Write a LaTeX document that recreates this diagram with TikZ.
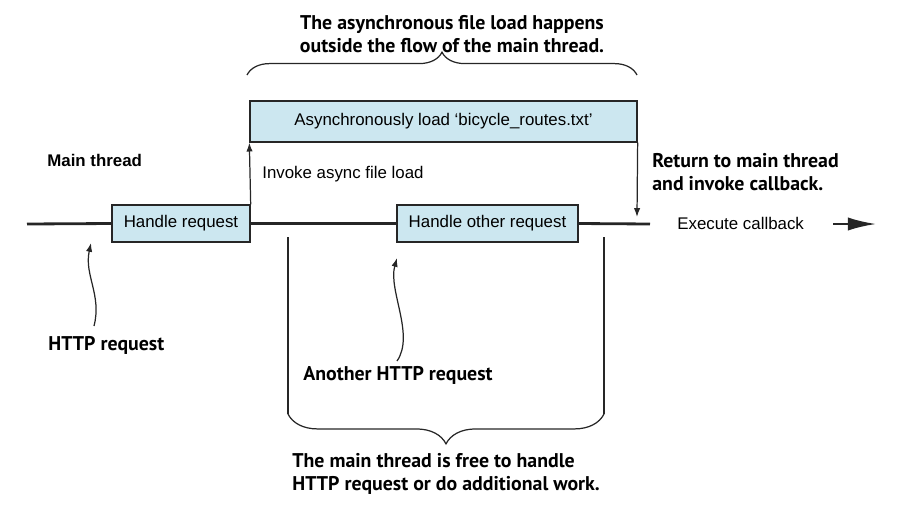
\documentclass[tikz,border=0pt]{standalone}
\usepackage{fontspec}
\setmainfont{Liberation Sans}
\newfontfamily\callfont{PT Sans}
\usetikzlibrary{arrows.meta,positioning,calc,decorations.pathreplacing}
\definecolor{boxblue}{HTML}{CCE7F0}
\definecolor{ink}{HTML}{262626}

\begin{document}
\begin{tikzpicture}[x=0.02cm,y=-0.02cm,
	font=\fontsize{9.6}{11.5}\selectfont,
	box/.style={draw=ink,line width=0.8pt,fill=boxblue,inner sep=0pt,minimum height=0.74cm},
	lbl/.style={inner sep=0pt,anchor=west},
	callout/.style={font=\callfont\bfseries\fontsize{11.3}{13.2}\selectfont,inner sep=0pt},
	thread/.style={draw=ink,line width=1.6pt},
	tip/.style={draw=ink,line width=0.7pt,-{Latex[length=5pt,width=3.6pt]}},
	brace/.style={draw=ink,line width=0.7pt,decorate,decoration={brace,amplitude=#1}}]
	\useasboundingbox (0,0) rectangle (904,508);
	
	% main thread and its boxes
	\node[box,minimum width=2.76cm] (hreq) at (181,223.5) {Handle request};
	\node[box,minimum width=3.62cm] (hother) at (487.5,223.5) {Handle other request};
	\node[box,minimum width=7.74cm,minimum height=0.82cm] (async) at (443.5,121.5) {Asynchronously load `bicycle\_routes.txt'};
	\coordinate (start) at (27,224);
	\coordinate (lineend) at (650,224);
	\coordinate (ret) at (637,217);
	
	\draw[thread] (start) -- (hreq.west);
	\draw[thread] (hreq.east) -- (hother.west);
	\draw[thread] (hother.east) -- (lineend);
	
	\draw[tip] (hreq.north east) -- (async.south west);
	\draw[tip] (async.south east) -- (ret);
	
	\node[lbl,font=\bfseries\fontsize{9.6}{11.5}\selectfont] (mainlbl) at (47,160) {Main thread};
	\node[lbl] (invoke) at (262,174) {Invoke async file load};
	\node[callout,anchor=west,align=left] (retlbl) at (652,172) {Return to main thread\\and invoke callback.};
	\node[lbl] (exec) at (677,223) {Execute callback};
	\coordinate (ea) at (833,224);
	\coordinate (eb) at (876,224);
	\draw[draw=ink,line width=1.2pt,-{Latex[length=16pt,width=7.5pt]}] (ea) -- (eb);
	
	% incoming requests
	\node[callout,anchor=west] (http) at (48,345) {HTTP request};
	\node[callout,anchor=west] (another) at (303,375) {Another HTTP request};
	\coordinate (h1) at (94,326);
	\coordinate (h2) at (91,243);
	\coordinate (a1) at (397,361);
	\coordinate (a2) at (397,258);
	\draw[tip] (h1) .. controls (102,295) and (84,275) .. (h2);
	\draw[tip] (a1) .. controls (415,335) and (388,290) .. (a2);
	
	% top brace
	\coordinate (t1) at (247,75);
	\coordinate (t2) at (637,75);
	\draw[brace=13pt] (t1) -- (t2);
	\node[callout,align=center] (toplbl) at (452,34) {The asynchronous file load happens\\outside the flow of the main thread.};
	
	% bottom bracket
	\coordinate (b1) at (288,237);
	\coordinate (b2) at (288,414);
	\coordinate (b3) at (604,237);
	\coordinate (b4) at (604,414);
	\draw[draw=ink,line width=0.7pt] (b1) -- (b2);
	\draw[draw=ink,line width=0.7pt] (b3) -- (b4);
	\draw[brace=17pt] (b4) -- (b2);
	\node[callout,anchor=west,align=left] (botlbl) at (292,474) {The main thread is free to handle\\HTTP request or do additional work.};
\end{tikzpicture}
\end{document}
